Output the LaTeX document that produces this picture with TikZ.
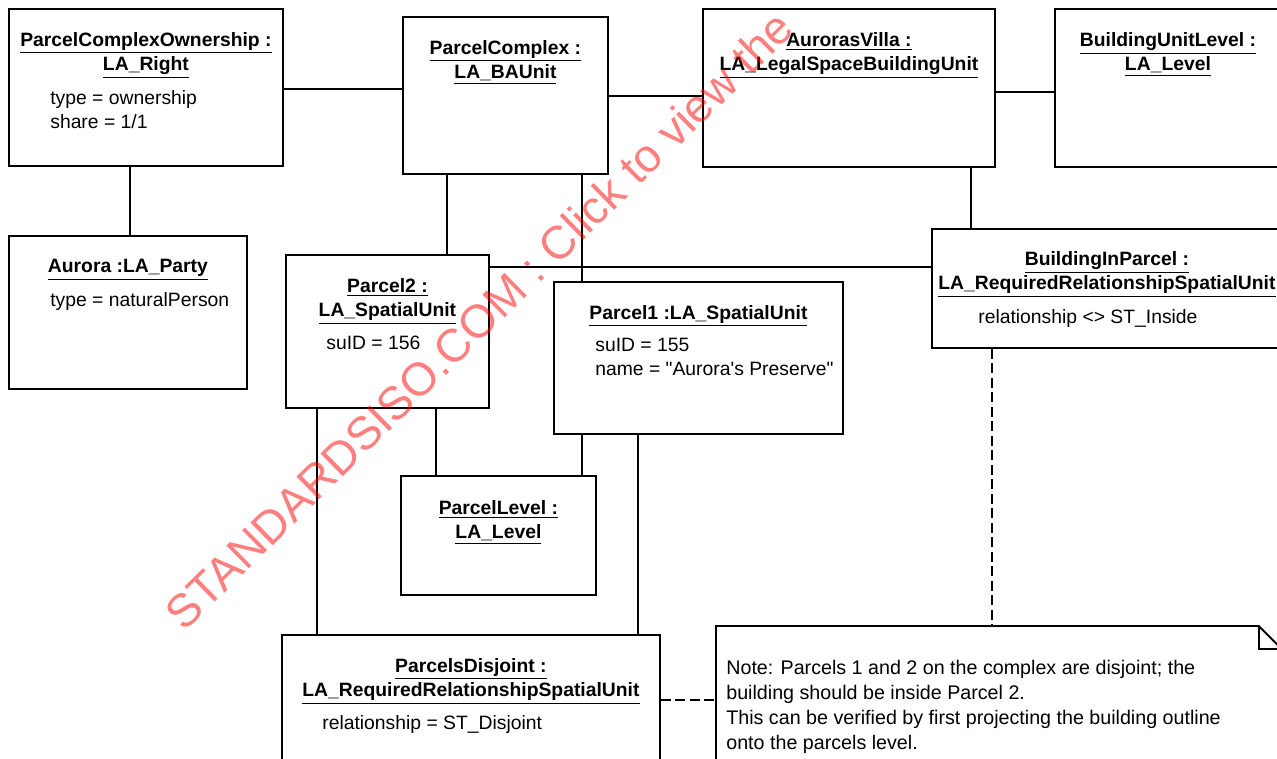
\documentclass[tikz,border=0pt]{standalone}
\usepackage{fontspec}
\setmainfont{Liberation Sans}[Ligatures=TeXOff]
\usetikzlibrary{positioning,calc}

\begin{document}
\begin{tikzpicture}[
    x=0.02cm, y=-0.02cm,
    obj/.style={
        rectangle,
        draw=black, line width=1.1pt,
        anchor=north west, inner sep=0pt
    },
    objtitle/.style={
        font=\bfseries\fontsize{11}{13.8}\selectfont,
        align=center, inner sep=0pt
    },
    objattr/.style={
        font=\fontsize{11}{13.8}\selectfont,
        align=left, inner sep=0pt
    },
    link/.style={line width=0.8pt},
    deplink/.style={line width=0.8pt, dash pattern=on 0.2cm off 0.09cm}
]

\useasboundingbox (0,0) rectangle (1277,758);
\clip (0,0) rectangle (1277,758);

% Top row
\node[obj, minimum width=5.48cm, minimum height=3.14cm] (own) at (8,8) {};
\node[objtitle, below=0.48cm of own.north] (own-title)
    {\underline{ParcelComplexOwnership :}\\\underline{LA\_Right}};
\node[objattr, below right=1.64cm and 0.84cm of own.north west] (own-attr)
    {type = ownership\\share = 1/1};

\node[obj, minimum width=4.10cm, minimum height=3.14cm] (complex) at (402,16) {};
\node[objtitle, below=0.48cm of complex.north] (complex-title)
    {\underline{ParcelComplex :}\\\underline{LA\_BAUnit}};

\node[obj, minimum width=5.84cm, minimum height=3.16cm] (villa) at (702,8) {};
\node[objtitle, below=0.48cm of villa.north] (villa-title)
    {\underline{AurorasVilla :}\\\underline{LA\_LegalSpaceBuildingUnit}};

\node[obj, minimum width=4.52cm, minimum height=3.16cm] (bulevel) at (1054,8) {};
\node[objtitle, below=0.48cm of bulevel.north] (bulevel-title)
    {\underline{BuildingUnitLevel :}\\\underline{LA\_Level}};

% Middle row
\node[obj, minimum width=4.76cm, minimum height=3.06cm] (party) at (8,235) {};
\node[objtitle, below=0.48cm of party.north] (party-title)
    {\underline{Aurora :LA\_Party}};
\node[objattr, below right=1.14cm and 0.84cm of party.north west] (party-attr)
    {type = naturalPerson};

\node[obj, minimum width=4.06cm, minimum height=3.06cm] (parcel2) at (285,254) {};
\node[objtitle, below=0.48cm of parcel2.north] (parcel2-title)
    {\underline{Parcel2 :}\\\underline{LA\_SpatialUnit}};
\node[objattr, below right=1.64cm and 0.82cm of parcel2.north west] (parcel2-attr)
    {suID = 156};

\node[obj, minimum width=5.78cm, minimum height=3.04cm] (parcel1) at (553,281) {};
\node[objtitle, below=0.48cm of parcel1.north] (parcel1-title)
    {\underline{Parcel1 :LA\_SpatialUnit}};
\node[objattr, below right=1.14cm and 0.84cm of parcel1.north west] (parcel1-attr)
    {suID = 155\\name = "Aurora's Preserve"};

\node[obj, minimum width=7.00cm, minimum height=2.38cm] (bip) at (931,228) {};
\node[objtitle, below=0.46cm of bip.north] (bip-title)
    {\underline{BuildingInParcel :}\\\underline{LA\_RequiredRelationshipSpatialUnit}};
\node[objattr, below right=1.62cm and 0.94cm of bip.north west] (bip-attr)
    {relationship <> ST\_Inside};

% Bottom row
\node[obj, minimum width=3.90cm, minimum height=2.38cm] (plevel) at (400,475) {};
\node[objtitle, below=0.50cm of plevel.north] (plevel-title)
    {\underline{ParcelLevel :}\\\underline{LA\_Level}};

\node[obj, minimum width=7.56cm, minimum height=3.00cm] (disjoint) at (281,634) {};
\node[objtitle, below=0.48cm of disjoint.north] (disjoint-title)
    {\underline{ParcelsDisjoint :}\\\underline{LA\_RequiredRelationshipSpatialUnit}};
\node[objattr, below right=1.62cm and 0.82cm of disjoint.north west] (disjoint-attr)
    {relationship = ST\_Disjoint};

% Note with folded corner
\node[obj, draw=none, minimum width=11.28cm, minimum height=3.00cm] (note) at (716,626) {};
\draw[line width=1.1pt] (note.south west) -- (note.north west)
    -- ($(note.north east)+(-23,0)$) -- ($(note.north east)+(0,23)$) -- (note.south east);
\draw[line width=1.1pt] ($(note.north east)+(-23,0)$) |- ($(note.north east)+(0,23)$);
\node[objattr, font=\fontsize{11.2}{14.2}\selectfont,
    below right=0.68cm and 0.2cm of note.north west] (note-text)
    {Note: Parcels 1 and 2 on the complex are disjoint; the\\
     building should be inside Parcel 2.\\
     This can be verified by first projecting the building outline\\
     onto the parcels level.};

% Links
\draw[link] ($(own.north east)+(0,81)$) -- ($(complex.north west)+(0,73)$);
\draw[link] ($(complex.north east)+(0,80)$) -- ($(villa.north west)+(0,88)$);
\draw[link] ($(villa.north east)+(0,84)$) -- ($(bulevel.north west)+(0,84)$);
\draw[link] ($(own.south west)+(122,0)$) -- ($(party.north west)+(122,0)$);
\draw[link] ($(complex.south west)+(45,0)$) -- ($(parcel2.north west)+(162,0)$);
\draw[link] ($(complex.south west)+(180,0)$) -- ($(parcel1.north west)+(29,0)$);
\draw[link] ($(parcel2.north east)+(0,13)$) -- ($(bip.north west)+(0,39)$);
\draw[link] ($(villa.south west)+(269,0)$) -- ($(bip.north west)+(40,0)$);
\draw[link] ($(parcel2.south west)+(151,0)$) -- ($(plevel.north west)+(36,0)$);
\draw[link] ($(parcel1.south west)+(29,0)$) -- ($(plevel.north west)+(182,0)$);
\draw[link] ($(parcel2.south west)+(32,0)$) -- ($(disjoint.north west)+(36,0)$);
\draw[link] ($(parcel1.south west)+(85,0)$) -- ($(disjoint.north west)+(357,0)$);

% Constraint anchors to the note
\draw[deplink] ($(bip.south west)+(61,0)$) -- ($(note.north west)+(276,0)$);
\draw[deplink] ($(disjoint.north east)+(0,66)$) -- ($(note.north west)+(0,74)$);

% Watermark
\node[rotate=44.5, text=red, text opacity=0.5,
    font=\fontsize{26.4}{30}\selectfont] (wm) at (479,320)
    {STANDARDSISO.COM : Click to view the};

\end{tikzpicture}
\end{document}
